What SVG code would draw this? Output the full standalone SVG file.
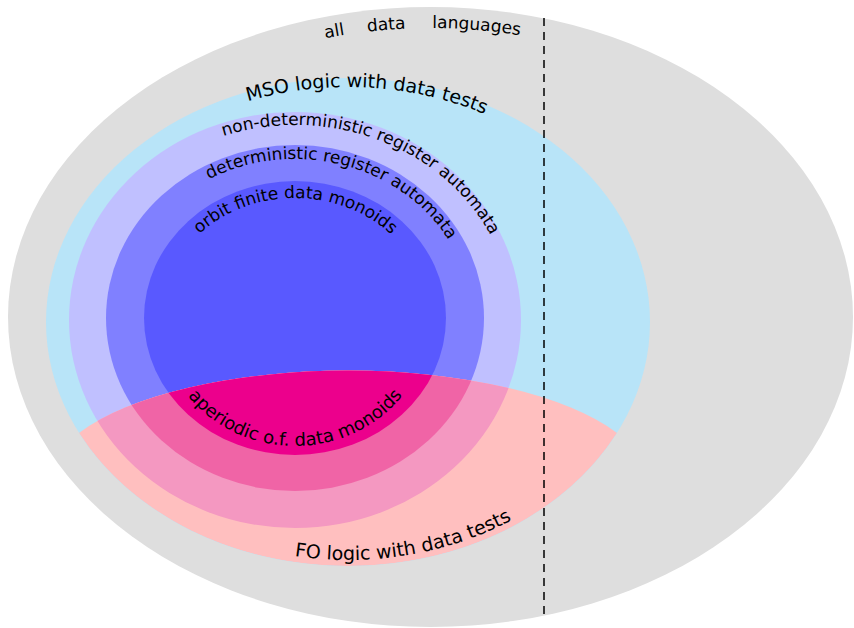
<svg xmlns="http://www.w3.org/2000/svg" width="854" height="628" viewBox="0 0 854 628">
  <defs>
    <style>
      text { font-family: "DejaVu Sans", "Liberation Sans", sans-serif; fill: #000; }
      .s { font-size: 17px; }
      .m { font-size: 18px; }
      .l { font-size: 19px; }
      .divider { stroke: #000; stroke-width: 1.5; stroke-dasharray: 8 6; fill: none; }
    </style>
    <!-- label baselines (upper arcs run left to right over the top, lower arcs under the bottom) -->
    <path id="p-all" d="M 28.5 317 A 402 289 0 0 1 832.5 317"/>
    <path id="p-mso" d="M 55 322 A 293 235 0 0 1 641 322"/>
    <path id="p-nd" d="M 78 320 A 217 195 0 0 1 512 320"/>
    <path id="p-det" d="M 119 318 A 176 159 0 0 1 471 318"/>
    <path id="p-of" d="M 161 318 A 134 120 0 0 1 429 318"/>
    <path id="p-ap" d="M 160 318 A 135 128 0 0 0 430 318"/>
    <path id="p-fo" d="M 53 322 A 295 238 0 0 0 643 322"/>
    <!-- FO region: lower part of the MSO ellipse under a flatter arc -->
    <clipPath id="fo-clip">
      <path d="M 79 433 A 300 112 0 0 1 617 433 A 302 244 0 0 1 79 433 Z"/>
    </clipPath>
  </defs>

  <g id="all-data-languages">
    <ellipse cx="430.5" cy="317" rx="422.5" ry="310" fill="#DEDEDE"/>
  </g>
  <g id="mso">
    <ellipse cx="348" cy="322" rx="302" ry="244" fill="#B8E4F8"/>
  </g>
  <g id="nondet-register-automata">
    <ellipse cx="295" cy="320" rx="226" ry="208" fill="#C0C0FF"/>
  </g>
  <g id="det-register-automata">
    <ellipse cx="295" cy="318" rx="189" ry="173" fill="#8080FF"/>
  </g>
  <g id="orbit-finite-monoids">
    <ellipse cx="295" cy="318" rx="151" ry="137" fill="#5959FF"/>
  </g>
  <g id="fo" clip-path="url(#fo-clip)">
    <ellipse cx="348" cy="322" rx="302" ry="244" fill="#FFBFBF"/>
    <ellipse cx="295" cy="320" rx="226" ry="208" fill="#F498C1"/>
    <ellipse cx="295" cy="318" rx="189" ry="173" fill="#F064A6"/>
    <ellipse cx="295" cy="318" rx="151" ry="137" fill="#EC008C"/>
  </g>

  <g id="connectors">
    <line class="divider" x1="544" y1="18" x2="544" y2="615"/>
  </g>

  <g id="labels">
    <text class="s" text-anchor="middle"><textPath href="#p-all" startOffset="450">all</textPath></text>
    <text class="s" text-anchor="middle"><textPath href="#p-all" startOffset="502">data</textPath></text>
    <text class="s" text-anchor="middle"><textPath href="#p-all" startOffset="592">languages</textPath></text>
    <text class="l" text-anchor="middle"><textPath href="#p-mso" startOffset="435">MSO logic with data tests</textPath></text>
    <text class="s" text-anchor="middle"><textPath href="#p-nd" startOffset="405">non-deterministic register automata</textPath></text>
    <text class="s" text-anchor="middle"><textPath href="#p-det" startOffset="309">deterministic register automata</textPath></text>
    <text class="s" text-anchor="middle"><textPath href="#p-of" startOffset="200">orbit finite data monoids</textPath></text>
    <text class="m" text-anchor="middle"><textPath href="#p-ap" startOffset="207">aperiodic o.f. data monoids</textPath></text>
    <text class="l" text-anchor="middle"><textPath href="#p-fo" startOffset="478">FO logic with data tests</textPath></text>
  </g>
</svg>
